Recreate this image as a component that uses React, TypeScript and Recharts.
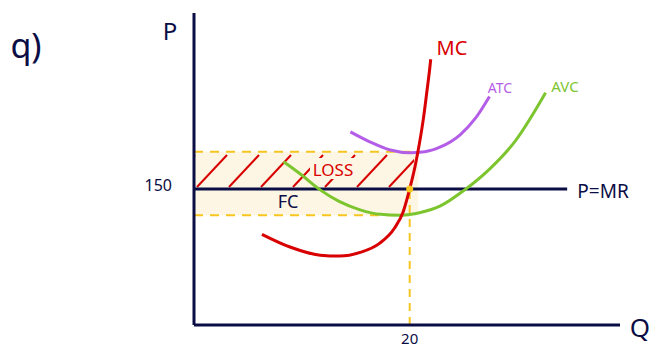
import React from "react";
import {
  ComposedChart,
  Line,
  XAxis,
  YAxis,
  ReferenceLine,
  ReferenceArea,
  ReferenceDot,
} from "recharts";

// curves (q = quantity, p = price)
const mcQ = [6.3, 8.9, 11.7, 13.5, 15.4, 17.2, 18.6, 19.4, 20.0, 20.5, 20.9, 21.3, 21.6, 21.85, 21.95];
const mcP = [100, 86, 77, 76, 80, 90, 107, 125, 150, 175, 200, 230, 258, 282, 293];

const atcQ = [14.5, 16.3, 18.2, 20.0, 21.4, 22.8, 24.7, 26.1, 27.4];
const atcP = [213, 202, 193, 190, 191, 196, 210, 228, 252];

const avcQ = [8.3, 9.8, 11.7, 13.5, 15.4, 17.3, 19.1, 21.0, 22.8, 25.1, 27.5, 29.8, 32.6];
const avcP = [180, 167, 149, 136, 127, 122, 121, 124, 131, 149, 173, 203, 256];

const price = 150;
const quantity = 20;
const atcAtQ = 191;
const avcAtQ = 121;
const mrEnd = 34.6;

const xTicks = [quantity];
const yTicks = [price];

const navy = "#0b0d45";
const red = "#d80000";
const purple = "#b45ee8";
const green = "#7dc52f";
const yellow = "#f7c520";
const cream = "#fdf6e4";
const font = "'Noto Sans', sans-serif";

const zip = (qs: number[], ps: number[]) => qs.map((q, i) => ({ q, p: ps[i] }));

const mcData = zip(mcQ, mcP);
const atcData = zip(atcQ, atcP);
const avcData = zip(avcQ, avcP);

export default function App() {
  return (
    <div style={{ position: "absolute", left: 0, top: 0, width: 653, height: 347, background: "#fff" }}>
      <ComposedChart
        width={653}
        height={347}
        margin={{ top: 13, right: 33, bottom: 0, left: 134 }}
      >
        <defs>
          <pattern id="hatch" patternUnits="userSpaceOnUse" width="32" height="37" y="152" x="196">
            <line x1="1" y1="35" x2="31" y2="3" stroke={red} strokeWidth={2} />
          </pattern>
        </defs>
        <XAxis
          type="number"
          dataKey="q"
          domain={[0, 39.5]}
          allowDataOverflow
          ticks={xTicks}
          height={22}
          tickLine={false}
          axisLine={{ stroke: navy, strokeWidth: 3 }}
          tick={{ fill: navy, fontSize: 15, fontFamily: font }}
        />
        <YAxis
          type="number"
          dataKey="p"
          domain={[0, 344]}
          allowDataOverflow
          ticks={yTicks}
          width={60}
          tickLine={false}
          tickMargin={16}
          axisLine={{ stroke: navy, strokeWidth: 3 }}
          tick={{ fill: navy, fontSize: 16, fontFamily: font, dy: -4 }}
        />
        <ReferenceArea x1={0} x2={20.8} y1={avcAtQ} y2={atcAtQ} fill={cream} fillOpacity={1} stroke="none" />
        <ReferenceArea x1={0} x2={20.4} y1={price} y2={atcAtQ} fill="url(#hatch)" fillOpacity={1} stroke="none" />
        <ReferenceLine
          segment={[{ x: 0, y: atcAtQ }, { x: 20.6, y: atcAtQ }]}
          stroke={yellow}
          strokeWidth={2}
          strokeDasharray="9 7"
        />
        <ReferenceLine
          segment={[{ x: 0, y: avcAtQ }, { x: quantity, y: avcAtQ }]}
          stroke={yellow}
          strokeWidth={2}
          strokeDasharray="9 7"
        />
        <ReferenceLine
          segment={[{ x: quantity, y: 0 }, { x: quantity, y: price }]}
          stroke={yellow}
          strokeWidth={2}
          strokeDasharray="8 6"
        />
        <ReferenceLine
          segment={[{ x: 0, y: price }, { x: mrEnd, y: price }]}
          stroke={navy}
          strokeWidth={3}
        />
        <Line data={avcData} dataKey="p" type="monotone" stroke={green} strokeWidth={3} dot={false} isAnimationActive={false} />
        <Line data={atcData} dataKey="p" type="monotone" stroke={purple} strokeWidth={3} dot={false} isAnimationActive={false} />
        <Line data={mcData} dataKey="p" type="monotone" stroke={red} strokeWidth={3} dot={false} isAnimationActive={false} />
        <ReferenceDot x={quantity} y={price} r={3.5} fill={yellow} stroke="none" />
      </ComposedChart>
      <svg
        width={653}
        height={347}
        style={{ position: "absolute", left: 0, top: 0, pointerEvents: "none" }}
      >
        <rect x={310} y={158} width={46} height={21} fill={cream} />
        <text x={333} y={176} fill={red} fontSize={17} fontFamily={font} textAnchor="middle">LOSS</text>
        <text x={288} y={208} fill={navy} fontSize={18} fontFamily={font} textAnchor="middle">FC</text>
        <text x={452} y={55} fill={red} fontSize={20} fontFamily={font} textAnchor="middle">MC</text>
        <text x={500} y={93} fill={purple} fontSize={14} fontFamily={font} textAnchor="middle">ATC</text>
        <text x={565} y={92} fill={green} fontSize={15} fontFamily={font} textAnchor="middle">AVC</text>
        <text x={603} y={198} fill={navy} fontSize={19} fontFamily={font} textAnchor="middle">P=MR</text>
        <text x={170} y={40} fill={navy} fontSize={24} fontFamily={font} textAnchor="middle">P</text>
        <text x={640} y={337} fill={navy} fontSize={26} fontFamily={font} textAnchor="middle">Q</text>
        <text x={26} y={58} fill={navy} fontSize={34} fontFamily={font} textAnchor="middle">q)</text>
      </svg>
    </div>
  );
}
